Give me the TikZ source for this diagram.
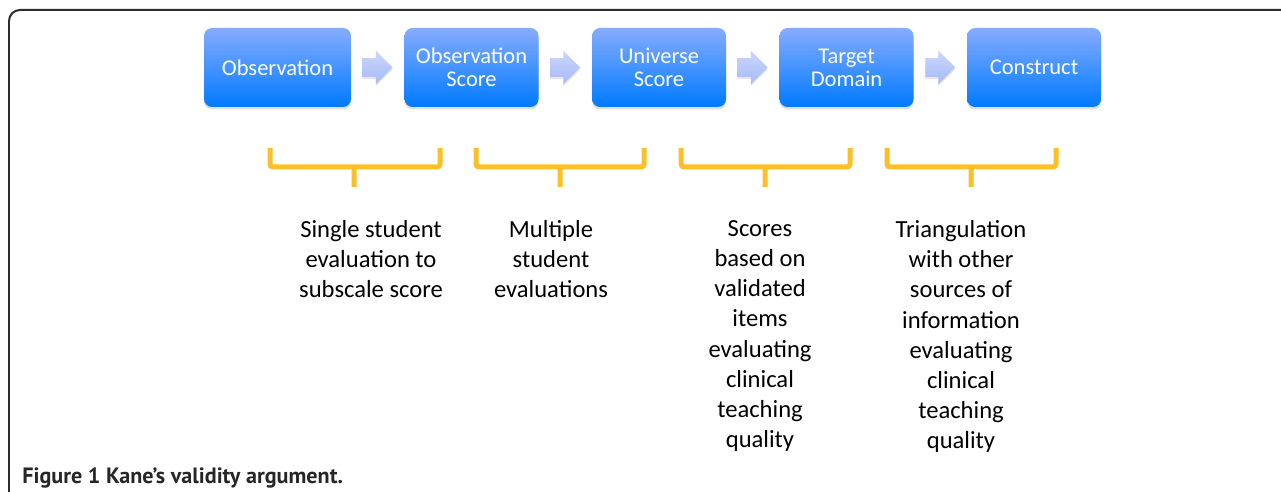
\documentclass[tikz,border=0pt]{standalone}
\usepackage{fontspec}
\setmainfont{Carlito}
\newfontfamily\capfont{PT Sans}
\usetikzlibrary{positioning,shapes.arrows,shadows}

\definecolor{boxtop}{RGB}{134,172,255}
\definecolor{boxbot}{RGB}{0,122,255}
\definecolor{arrtop}{RGB}{204,214,252}
\definecolor{arrbot}{RGB}{166,186,246}
\definecolor{bracecol}{RGB}{252,192,38}
\definecolor{framecol}{RGB}{45,45,45}

\begin{document}
\begin{tikzpicture}[x=0.02cm, y=-0.02cm,
  stage/.style={rectangle, rounded corners=0.16cm, top color=boxtop, bottom color=boxbot, text=white, font=\fontsize{12.8}{13.2}\selectfont, align=center, minimum width=2.68cm, minimum height=1.58cm, inner sep=0pt, drop shadow={shadow xshift=0cm, shadow yshift=-0.05cm, opacity=0.25}},
  flowarrow/.style={single arrow, top color=arrtop, bottom color=arrbot, minimum height=0.6cm, minimum width=0.66cm, single arrow head extend=0.15cm, single arrow head indent=0cm, inner xsep=0pt, inner ysep=0.18cm, drop shadow={shadow xshift=0cm, shadow yshift=-0.04cm, opacity=0.2}},
  bracket/.style={draw=bracecol, line width=0.1cm, rounded corners=0.06cm},
  note/.style={font=\fontsize{14}{17.2}\selectfont, align=center, inner sep=0pt, anchor=north},
]
\useasboundingbox (0,0) rectangle (1281,492);
% frame
\draw[framecol, line width=0.04cm, rounded corners=0.22cm] (9,492) -- (9,10) -- (1282,10);

% chain of stages
\node[stage, minimum width=2.94cm] (obs) at (277.5,67.5) {Observation};
\node[flowarrow, right=0.22cm of obs] (a1) {};
\node[stage, right=0.22cm of a1] (oscore) {Observation\\Score};
\node[flowarrow, right=0.22cm of oscore] (a2) {};
\node[stage, right=0.22cm of a2] (uscore) {Universe\\Score};
\node[flowarrow, right=0.22cm of uscore] (a3) {};
\node[stage, right=0.22cm of a3] (target) {Target\\Domain};
\node[flowarrow, right=0.22cm of target] (a4) {};
\node[stage, right=0.22cm of a4] (construct) {Construct};

% brackets
\foreach \l/\r/\m in {270/440/354, 476/644/560, 681/850/765, 887/1056/971}
  \draw[bracket] (\l,148) |- (\r,167) -- (\r,148) (\m,167) -- (\m,187);

% inferences
\node[note] (n1) at (371,220) {Single student\\evaluation to\\subscale score};
\node[note] (n2) at (551,220) {Multiple\\student\\evaluations};
\node[note] (n3) at (760,220) {Scores\\based on\\validated\\items\\evaluating\\clinical\\teaching\\quality};
\node[note] (n4) at (961,220) {Triangulation\\with other\\sources of\\information\\evaluating\\clinical\\teaching\\quality};

% caption
\node[font=\capfont\bfseries\fontsize{12.6}{14}\selectfont, anchor=base west, inner sep=0pt, text=black!85] (cap) at (22,484) {Figure 1 Kane’s validity argument.};
\end{tikzpicture}
\end{document}
